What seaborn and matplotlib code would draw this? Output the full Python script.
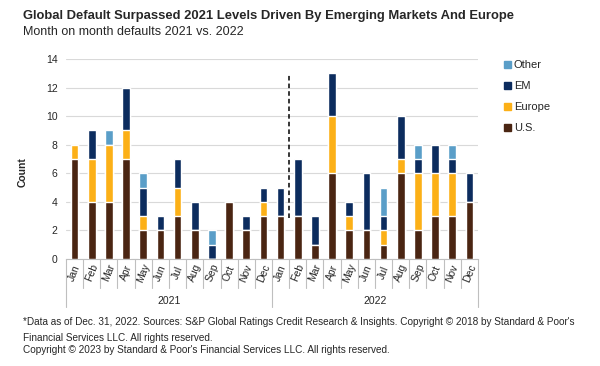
import numpy as np
import pandas as pd
import matplotlib
matplotlib.use("Agg")
from matplotlib import pyplot as plt
from matplotlib.patches import Patch
import seaborn as sns

# Werte
months = ["Jan", "Feb", "Mar", "Apr", "May", "Jun", "Jul", "Aug", "Sep", "Oct", "Nov", "Dec"]
years = ["2021", "2022"]
us = [7, 4, 4, 7, 2, 2, 3, 2, 0, 4, 2, 3,
      3, 3, 1, 6, 2, 2, 1, 6, 2, 3, 3, 4]
europe = [1, 3, 4, 2, 1, 0, 2, 0, 0, 0, 0, 1,
          0, 0, 0, 4, 1, 0, 1, 1, 4, 3, 3, 0]
em = [0, 2, 0, 3, 2, 1, 2, 2, 1, 0, 1, 1,
      2, 4, 2, 3, 1, 4, 1, 3, 1, 2, 1, 2]
other = [0, 0, 1, 0, 1, 0, 0, 0, 1, 0, 0, 0,
         0, 0, 0, 0, 0, 0, 2, 0, 1, 0, 1, 0]

colors = {"U.S.": "#4a2512", "Europe": "#fcb017", "EM": "#0c2c5e", "Other": "#5a9ec8"}

sns.set_style("white")
plt.rcParams['font.family'] = ['Liberation Sans', 'DejaVu Sans']

df = pd.DataFrame({
    "periode": [f"{m} {y}" for y in years for m in months],
    "U.S.": us, "Europe": europe, "EM": em, "Other": other,
})
# kumulierte Summen fuer gestapelte Balken (von oben nach unten zeichnen)
df["s_us"] = df["U.S."]
df["s_eu"] = df["s_us"] + df["Europe"]
df["s_em"] = df["s_eu"] + df["EM"]
df["s_ot"] = df["s_em"] + df["Other"]

fig = plt.figure(figsize=(6, 3.66), dpi=100)
ax = fig.add_axes([66 / 600, 1 - 259 / 366, 412 / 600, 200 / 366])

order = list(df["periode"])
for col, name in [("s_ot", "Other"), ("s_em", "EM"), ("s_eu", "Europe"), ("s_us", "U.S.")]:
    sns.barplot(data=df, x="periode", y=col, order=order, color=colors[name],
                width=0.44, saturation=1, ax=ax, zorder=3)

ax.set_ylim(0, 14)
ax.set_xlim(-0.5, 23.5)
ax.set_yticks(range(0, 15, 2))
ax.yaxis.grid(True, color="#d9d9d9", linewidth=0.8, zorder=0)
ax.set_axisbelow(True)
for s in ["left", "right", "top"]:
    ax.spines[s].set_visible(False)
ax.spines["bottom"].set_color("#bfbfbf")
ax.set_xlabel("")
ax.set_ylabel("")
ax.tick_params(axis="y", length=0, pad=6, labelsize=7.5)
ax.tick_params(axis="x", length=0, pad=10, labelsize=7.5)
ax.set_xticks(range(24))
ax.set_xticklabels(months * 2, rotation=68, ha="center", va="center",
                   rotation_mode="anchor")

# Trennlinien unter der Achse
trans = ax.get_xaxis_transform()
for i in range(25):
    depth = -0.24 if i in (0, 12, 24) else -0.145
    ax.plot([i - 0.5, i - 0.5], [0, depth], color="#bfbfbf", lw=0.8,
            transform=trans, clip_on=False)
for k, y in enumerate(years):
    ax.text(5.5 + 12 * k, -0.21, y, transform=trans, ha="center", va="center", fontsize=7.5)

# gestrichelte Linie zwischen Jan und Feb 2022
ax.plot([12.5, 12.5], [2.9, 13.0], color="black", lw=1.1, ls=(0, (3, 2)), zorder=4)

fig.text(23 / 600, 1 - 172 / 366, "Count", rotation=90, ha="center", va="center",
         fontsize=7.5, fontweight="bold")

handles = [Patch(color=colors[n]) for n in ["Other", "EM", "Europe", "U.S."]]
fig.legend(handles, ["Other", "EM", "Europe", "U.S."], loc="upper left",
           bbox_to_anchor=(494 / 600, 1 - 50 / 366), frameon=False, fontsize=8,
           handlelength=0.6, handleheight=0.6, handletextpad=0.3, labelspacing=1.0)

fig.text(23 / 600, 1 - 16 / 366, "Global Default Surpassed 2021 Levels Driven By Emerging Markets And Europe",
         fontsize=9.4, fontweight="bold", va="center")
fig.text(23 / 600, 1 - 32 / 366, "Month on month defaults 2021 vs. 2022", fontsize=9, va="center")

fig.text(23 / 600, 1 - 322 / 366,
         "*Data as of Dec. 31, 2022. Sources: S&P Global Ratings Credit Research & Insights. "
         "Copyright \u00a9 2018 by Standard & Poor's", fontsize=7.2, va="center")
fig.text(23 / 600, 1 - 338 / 366, "Financial Services LLC. All rights reserved.", fontsize=7.2, va="center")
fig.text(23 / 600, 1 - 350 / 366,
         "Copyright \u00a9 2023 by Standard & Poor's Financial Services LLC. All rights reserved.",
         fontsize=7.2, va="center")

fig.savefig("out.png", dpi=100)
